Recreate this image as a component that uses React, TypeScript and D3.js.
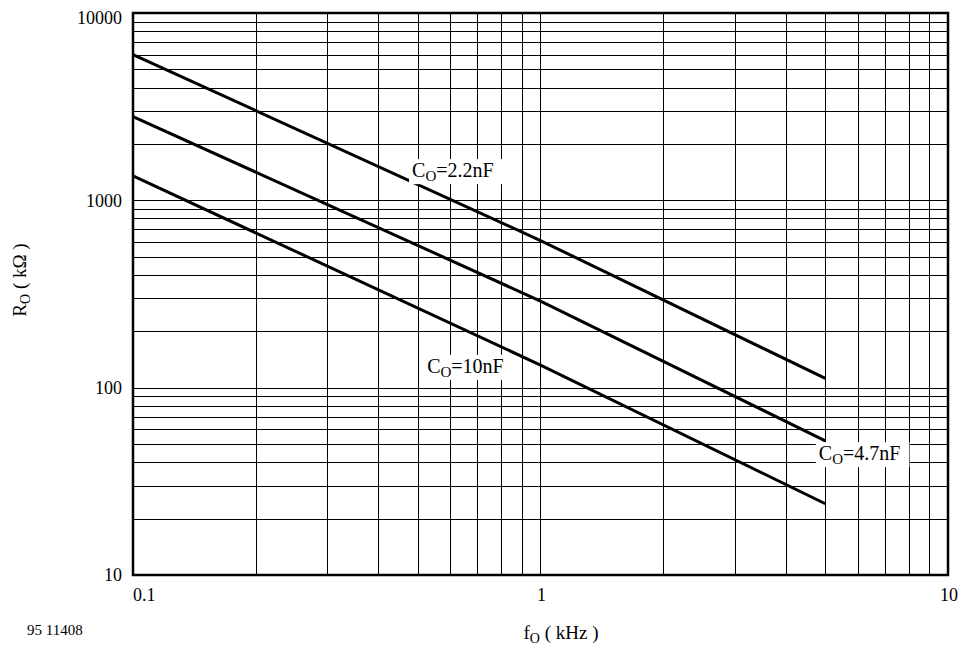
import { useEffect, useRef } from "react";
import * as d3 from "d3";

// frequency points (kHz) where the curves are read
const freqs = [0.1, 1, 5];
// R_O (kOhm) for each timing capacitor
const r22nF = [6000, 610, 112];
const r47nF = [2800, 290, 52];
const r10nF = [1350, 132, 24];

const xTicks = [0.1, 1, 10];
const yTicks = [10, 100, 1000, 10000];

// label text and the (f, R) point where each label starts
const labelValues = ["=2.2nF", "=4.7nF", "=10nF"];
const labelF = [0.484, 4.82, 0.527];
const labelR = [1330, 41, 120];

const FONT = "'Liberation Serif', 'Times New Roman', serif";

export default function App() {
  const svgRef = useRef<SVGSVGElement>(null);

  useEffect(() => {
    if (!svgRef.current) return;
    const svg = d3.select(svgRef.current);
    svg.selectAll("*").remove();

    const margin = { top: 13, right: 13, bottom: 73, left: 133 };
    const width = 961 - margin.left - margin.right;
    const height = 648 - margin.top - margin.bottom;

    const g = svg
      .append("g")
      .attr("transform", `translate(${margin.left},${margin.top})`);

    const x = d3.scaleLog().domain([0.1, 10]).range([0, width]);
    const y = d3.scaleLog().domain([10, 10000]).range([height, 0]);

    // minor + major grid
    const xGrid: number[] = [];
    for (let dec = 0.1; dec < 10; dec *= 10) {
      for (let k = 2; k <= 9; k++) xGrid.push(dec * k);
    }
    xGrid.push(1);
    const yGrid: number[] = [];
    for (let dec = 10; dec < 10000; dec *= 10) {
      for (let k = 2; k <= 9; k++) yGrid.push(dec * k);
    }
    yGrid.push(100, 1000);

    g.selectAll(".vgrid")
      .data(xGrid)
      .enter()
      .append("line")
      .attr("x1", (d) => Math.round(x(d)) + 0.5)
      .attr("x2", (d) => Math.round(x(d)) + 0.5)
      .attr("y1", 0)
      .attr("y2", height)
      .attr("stroke", "#000")
      .attr("stroke-width", 1);

    g.selectAll(".hgrid")
      .data(yGrid)
      .enter()
      .append("line")
      .attr("x1", 0)
      .attr("x2", width)
      .attr("y1", (d) => Math.round(y(d)) + 0.5)
      .attr("y2", (d) => Math.round(y(d)) + 0.5)
      .attr("stroke", "#000")
      .attr("stroke-width", 1);

    // curves
    const line = d3
      .line<number>()
      .x((_, i) => x(freqs[i]))
      .y((d) => y(d));

    [r22nF, r47nF, r10nF].forEach((s) => {
      g.append("path")
        .datum(s)
        .attr("fill", "none")
        .attr("stroke", "#000")
        .attr("stroke-width", 3)
        .attr("d", line);
    });

    // frame
    g.append("rect")
      .attr("x", 0)
      .attr("y", 0)
      .attr("width", width)
      .attr("height", height)
      .attr("fill", "none")
      .attr("stroke", "#000")
      .attr("stroke-width", 2.5);

    // curve labels with white backgrounds
    labelValues.forEach((v, i) => {
      const lg = g.append("g");
      const bg = lg.append("rect").attr("fill", "#fff");
      const t = lg
        .append("text")
        .attr("x", x(labelF[i]))
        .attr("y", y(labelR[i]))
        .style("font-family", FONT)
        .style("font-size", "20px")
        .attr("fill", "#000");
      t.append("tspan").text("C");
      t.append("tspan")
        .attr("dy", 4)
        .style("font-size", "15px")
        .text("O");
      t.append("tspan").attr("dy", -4).text(v);
      const bb = (t.node() as SVGTextElement).getBBox();
      bg.attr("x", bb.x - 3)
        .attr("y", bb.y)
        .attr("width", bb.width + 12)
        .attr("height", bb.height);
    });

    // tick labels
    g.selectAll(".ytick")
      .data(yTicks)
      .enter()
      .append("text")
      .attr("x", -11)
      .attr("y", (d) => Math.max(y(d), 5))
      .attr("dy", "0.35em")
      .attr("text-anchor", "end")
      .style("font-family", FONT)
      .style("font-size", "18px")
      .text((d) => String(d));

    g.selectAll(".xtick")
      .data(xTicks)
      .enter()
      .append("text")
      .attr("x", (d, i) => x(d) + (i === 0 ? 0 : 1))
      .attr("y", height + 26)
      .attr("text-anchor", (_, i) => (i === 0 ? "start" : "middle"))
      .style("font-family", FONT)
      .style("font-size", "18px")
      .text((d) => String(d));

    // axis titles
    const yt = svg
      .append("text")
      .attr("transform", "translate(26,280) rotate(-90)")
      .attr("text-anchor", "middle")
      .style("font-family", FONT)
      .style("font-size", "19px");
    yt.append("tspan").text("R");
    yt.append("tspan").attr("dy", 4).style("font-size", "14px").text("O");
    yt.append("tspan").attr("dy", -4).text(" ( k\u03A9 )");

    const xt = svg
      .append("text")
      .attr("x", 561)
      .attr("y", 639)
      .attr("text-anchor", "middle")
      .style("font-family", FONT)
      .style("font-size", "19px");
    xt.append("tspan").text("f");
    xt.append("tspan").attr("dy", 4).style("font-size", "14px").text("O");
    xt.append("tspan").attr("dy", -4).text("  ( kHz )");

    svg
      .append("text")
      .attr("x", 27)
      .attr("y", 635)
      .style("font-family", FONT)
      .style("font-size", "15px")
      .text("95 11408");
  }, []);

  return (
    <svg
      ref={svgRef}
      width={961}
      height={648}
      style={{ position: "absolute", left: 0, top: 0, background: "#fff" }}
    />
  );
}
